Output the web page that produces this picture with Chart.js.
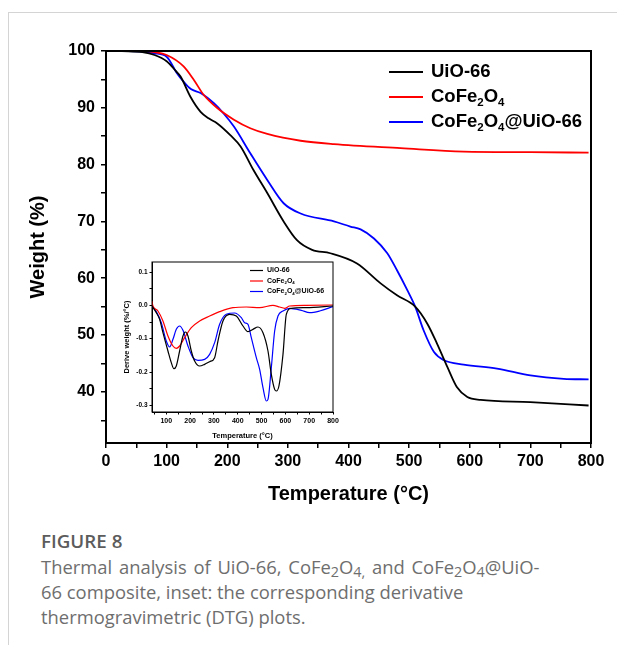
<!DOCTYPE html>
<html><head><meta charset="utf-8">
<script src="https://cdn.jsdelivr.net/npm/chart.js@4.4.0/dist/chart.umd.min.js"></script>
<style>
html,body{margin:0;padding:0;background:#fff;}
#page{position:relative;width:617px;height:645px;overflow:hidden;background:#fff;}
#frame{position:absolute;left:8px;top:12px;width:640px;height:660px;border-left:1px solid #d4d4d4;border-top:1px solid #d4d4d4;}
#mainWrap{position:absolute;left:0;top:0;width:617px;height:510px;}
#insetWrap{position:absolute;left:118px;top:255px;width:225px;height:190px;}
#plotBox{position:absolute;box-sizing:border-box;border:2px solid #000;pointer-events:none;display:none;}
#cap{position:absolute;left:41px;top:529px;width:570px;font-family:"Open Sans",Lato,sans-serif;color:#6e6e6e;font-size:18.4px;line-height:25px;}
#cap .fig{font-weight:600;color:#5c5c5c;font-size:18.8px;margin-bottom:0px;}
#cap .l1{word-spacing:2px;}
#cap sub{font-size:78%;vertical-align:-3px;line-height:0;}
</style></head>
<body>
<div id="page">
<div id="frame"></div>
<div id="mainWrap"><canvas id="main" width="617" height="510"></canvas></div>
<div id="plotBox"></div>
<div id="insetWrap"><canvas id="inset" width="225" height="190"></canvas></div>
<div id="cap"><div class="fig">FIGURE 8</div><span class="l1">Thermal analysis of UiO-66, CoFe<sub>2</sub>O<sub>4,</sub> and CoFe<sub>2</sub>O<sub>4</sub>@UiO-</span><br>66 composite, inset: the corresponding derivative<br>thermogravimetric (DTG) plots.</div>
</div>
<script>
// ---------------- DATA ----------------
const seriesNames = ['UiO-66', 'CoFe2O4', 'CoFe2O4@UiO-66'];
const seriesColors = ['#000000', '#ff0000', '#0000ff'];

// Main TGA: temperature (°C) and weight (%)
const tgaUiO_T = [26, 60, 80, 100, 115, 123, 139, 156, 170, 183, 205, 222, 243, 266, 293, 315, 340, 370, 414, 453, 480, 510, 530, 546, 563, 579, 596, 618, 700, 796];
const tgaUiO_W = [100, 99.8, 99.3, 98.2, 96.5, 95.5, 92, 89.3, 88.1, 87.3, 85.2, 83.2, 79.1, 75, 70, 66.7, 65.0, 64.4, 62.6, 59.1, 57, 55, 52, 48.5, 44.4, 40.8, 39.1, 38.6, 38.2, 37.6];
const tgaCo_T = [26, 62, 80, 100, 128, 145, 161, 183, 211, 238, 266, 321, 376, 486, 590, 700, 796];
const tgaCo_W = [100, 100, 99.8, 99.3, 97.3, 94.9, 92.3, 90, 87.9, 86.4, 85.4, 84.2, 83.6, 82.9, 82.3, 82.2, 82.1];
const tgaComp_T = [26, 60, 80, 100, 117, 128, 140, 156, 178, 194, 211, 238, 266, 293, 321, 376, 403, 420, 442, 464, 480, 497, 510, 524, 541, 557, 590, 645, 700, 755, 796];
const tgaComp_W = [100, 99.9, 99.6, 99, 96.1, 94.6, 93.3, 92.6, 90.8, 89, 86.7, 82, 77.3, 73.2, 71.4, 70, 69.1, 68.6, 67, 64.4, 61.4, 57.9, 55, 50.8, 47, 45.6, 44.8, 44.1, 42.9, 42.3, 42.2];

// Inset DTG: temperature (°C) and derivative weight (%/°C)
const dtgUiO_T = [40, 58, 72, 86, 107, 121, 132, 142, 156, 170, 180, 191, 205, 219, 240, 261, 282, 303, 317, 338, 366, 394, 422, 443, 464, 485, 506, 527, 541, 555, 562, 573, 590, 604, 625, 688, 800];
const dtgUiO_D = [-0.002, -0.022, -0.042, -0.082, -0.137, -0.172, -0.19, -0.182, -0.137, -0.092, -0.08, -0.092, -0.137, -0.167, -0.182, -0.177, -0.169, -0.157, -0.107, -0.047, -0.027, -0.032, -0.062, -0.079, -0.072, -0.065, -0.082, -0.137, -0.207, -0.252, -0.257, -0.242, -0.147, -0.027, -0.009, -0.007, -0.002];
const dtgCo_T = [40, 42, 44, 65, 86, 107, 128, 142, 156, 177, 205, 240, 282, 324, 380, 436, 492, 548, 576, 597, 618, 688, 800];
const dtgCo_D = [0.013, 0.004, -0.002, -0.017, -0.047, -0.092, -0.122, -0.129, -0.122, -0.097, -0.067, -0.047, -0.032, -0.019, -0.007, -0.005, -0.007, 0.0, -0.005, -0.009, -0.002, 0.0, 0.001];
const dtgComp_T = [40, 58, 79, 100, 114, 128, 142, 156, 170, 191, 212, 233, 261, 282, 303, 324, 352, 387, 415, 429, 443, 457, 478, 492, 506, 520, 527, 541, 555, 569, 590, 618, 667, 702, 744, 800];
const dtgComp_D = [-0.002, -0.019, -0.052, -0.107, -0.125, -0.102, -0.072, -0.062, -0.075, -0.122, -0.157, -0.165, -0.162, -0.147, -0.112, -0.057, -0.027, -0.023, -0.037, -0.052, -0.057, -0.097, -0.157, -0.192, -0.247, -0.287, -0.282, -0.187, -0.077, -0.032, -0.017, -0.009, -0.015, -0.022, -0.017, -0.004];

// Tick labels
const mainXTicks = [0, 100, 200, 300, 400, 500, 600, 700, 800];
const mainYTicks = [40, 50, 60, 70, 80, 90, 100];
const insetXTicks = [100, 200, 300, 400, 500, 600, 700, 800];
const insetYTicks = [0.1, 0.0, -0.1, -0.2, -0.3];

// ---------------- HELPERS ----------------
const FONT = '"Liberation Sans", Arial, Helvetica, sans-serif';
function pts(T, V) { return T.map((t, i) => ({ x: t, y: V[i] })); }
function withMinor(majors, step, min, max) {
  const vals = new Set();
  const lo = Math.ceil(min / step - 1e-9), hi = Math.floor(max / step + 1e-9);
  for (let k = lo; k <= hi; k++) vals.add(+(k * step).toFixed(6));
  majors.forEach(v => vals.add(v));
  return [...vals].sort((a, b) => a - b).map(v => ({ value: v }));
}
function isMajor(majors, v) { return majors.some(m => Math.abs(m - v) < 1e-6); }
function drawFormula(ctx, text, x, y, size) {
  // digits directly after a letter are drawn as subscripts
  const runs = [];
  for (let i = 0; i < text.length; i++) {
    const ch = text[i], prev = text[i - 1];
    const sub = /[0-9]/.test(ch) && prev !== undefined && /[A-Za-z]/.test(prev);
    if (runs.length && runs[runs.length - 1].sub === sub) runs[runs.length - 1].t += ch;
    else runs.push({ t: ch, sub });
  }
  let cx = x;
  ctx.textAlign = 'left';
  ctx.textBaseline = 'middle';
  for (const r of runs) {
    const s = r.sub ? size * 0.62 : size;
    ctx.font = 'bold ' + s + 'px ' + FONT;
    ctx.fillText(r.t, cx, r.sub ? y + size * 0.3 : y);
    cx += ctx.measureText(r.t).width;
  }
}
function makeBoxLegend(cfg) {
  return {
    id: 'boxLegend_' + cfg.name,
    afterDraw(chart) {
      const ctx = chart.ctx, a = chart.chartArea;
      ctx.save();
      ctx.strokeStyle = '#000000';
      ctx.lineWidth = cfg.box;
      ctx.strokeRect(a.left, a.top, a.right - a.left, a.bottom - a.top);
      chart.data.datasets.forEach((ds, i) => {
        const y = cfg.y0 + i * cfg.dy;
        ctx.strokeStyle = ds.borderColor;
        ctx.lineWidth = cfg.lw;
        ctx.beginPath(); ctx.moveTo(cfg.x0, y); ctx.lineTo(cfg.x0 + cfg.len, y); ctx.stroke();
        ctx.fillStyle = '#000';
        drawFormula(ctx, ds.label, cfg.tx, y, cfg.size);
      });
      ctx.restore();
    }
  };
}
function makeDatasets(list, width) {
  return list.map((d, i) => ({
    label: seriesNames[i], data: pts(d[0], d[1]),
    borderColor: seriesColors[i], backgroundColor: seriesColors[i],
    borderWidth: width, pointRadius: 0, fill: false, cubicInterpolationMode: 'monotone'
  }));
}
function axis(opts) {
  return {
    type: 'linear', min: opts.min, max: opts.max,
    afterBuildTicks: s => { s.ticks = withMinor(opts.majors, opts.step, opts.min, opts.max); },
    afterFit: s => { if (opts.height) s.height = opts.height; if (opts.width) s.width = opts.width; },
    grid: { display: true, drawOnChartArea: false, drawTicks: true, tickLength: opts.tickLen, color: '#000', lineWidth: opts.lw },
    border: { display: true, color: '#000', width: opts.lw },
    ticks: { color: '#000', padding: opts.pad, maxRotation: 0, autoSkip: false,
      font: { family: FONT, size: opts.tickSize, weight: 'bold' },
      callback: v => isMajor(opts.majors, v) ? opts.fmt(v) : '' },
    title: { display: true, text: opts.title, color: '#000', padding: opts.titlePad,
      font: { family: FONT, size: opts.titleSize, weight: 'bold' } }
  };
}

// use software-backed 2D contexts (same kind the small inset canvas gets)
const mainCanvas = document.getElementById('main');
const insetCanvas = document.getElementById('inset');
mainCanvas.getContext('2d', { willReadFrequently: true });
insetCanvas.getContext('2d', { willReadFrequently: true });

// ---------------- MAIN CHART ----------------
const mc = new Chart(mainCanvas, {
  type: 'line',
  data: { datasets: makeDatasets([[tgaUiO_T, tgaUiO_W], [tgaCo_T, tgaCo_W], [tgaComp_T, tgaComp_W]], 1.8) },
  options: {
    responsive: false, animation: false, events: [],
    layout: { padding: { left: 0, right: 26, top: 51, bottom: 0 } },
    plugins: { legend: { display: false }, tooltip: { enabled: false } },
    scales: {
      x: axis({ min: 0, max: 800, majors: mainXTicks, step: 50, height: 67, tickLen: 5, lw: 1.5, pad: 4,
        tickSize: 16, fmt: v => String(v), title: 'Temperature (°C)', titleSize: 20, titlePad: { top: 0, bottom: 4 } }),
      y: axis({ min: 31, max: 100, majors: mainYTicks, step: 5, width: 106, tickLen: 5, lw: 1.5, pad: 6,
        tickSize: 16, fmt: v => String(v), title: 'Weight (%)', titleSize: 20, titlePad: { top: 26, bottom: 0 } })
    }
  },
  plugins: [makeBoxLegend({ name: 'main', box: 1.5, x0: 389, len: 34, tx: 431, y0: 72, dy: 25, lw: 2, size: 18.5 })]
});

// ---------------- INSET CHART ----------------
const ic = new Chart(insetCanvas, {
  type: 'line',
  data: { datasets: makeDatasets([[dtgUiO_T, dtgUiO_D], [dtgCo_T, dtgCo_D], [dtgComp_T, dtgComp_D]], 1.2) },
  options: {
    responsive: false, animation: false, events: [],
    layout: { padding: { left: 0, right: 10, top: 7, bottom: 0 } },
    plugins: { legend: { display: false }, tooltip: { enabled: false } },
    scales: {
      x: axis({ min: 40, max: 800, majors: insetXTicks, step: 50, height: 33, tickLen: 2.5, lw: 1, pad: 2,
        tickSize: 7, fmt: v => String(v), title: 'Temperature (°C)', titleSize: 7.5, titlePad: { top: 0, bottom: 5 } }),
      y: axis({ min: -0.32, max: 0.13, majors: insetYTicks, step: 0.05, width: 34, tickLen: 2.5, lw: 1, pad: 2,
        tickSize: 6.5, fmt: v => v.toFixed(1), title: 'Derive weight (%/°C)', titleSize: 7.5, titlePad: { top: 4, bottom: 0 } })
    }
  },
  plugins: [makeBoxLegend({ name: 'inset', box: 1, x0: 132, len: 13, tx: 149, y0: 15.5, dy: 10.5, lw: 1.2, size: 7 })]
});

// plot frame overlay placed on the chart area that Chart.js computed
const ca = mc.chartArea, pb = document.getElementById('plotBox');
pb.style.left = (ca.left - 1) + 'px';
pb.style.top = (ca.top - 1) + 'px';
pb.style.width = (ca.right - ca.left + 2) + 'px';
pb.style.height = (ca.bottom - ca.top + 2) + 'px';
pb.style.display = 'block';
</script>
</body></html>
